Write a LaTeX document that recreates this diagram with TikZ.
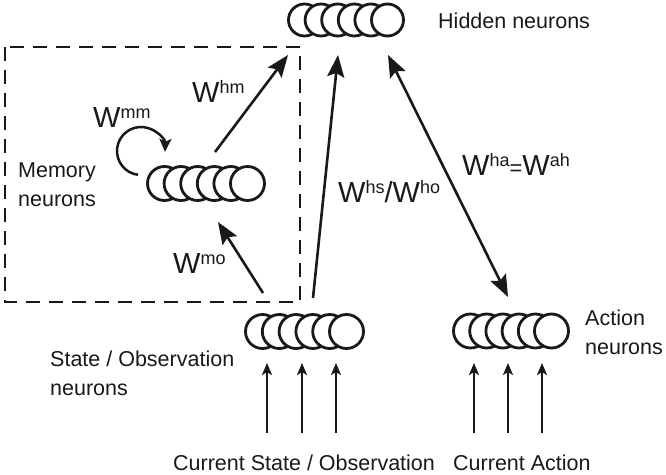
\documentclass[tikz,border=0pt]{standalone}
\usepackage{fontspec}
\setmainfont{Liberation Sans}
\usetikzlibrary{arrows.meta}
\newcommand\Wl[1]{{\fontsize{29}{29}\selectfont W}\raisebox{9pt}{\fontsize{18}{18}\selectfont #1}}
\tikzset{
  neuron/.style={circle, draw=black!90, fill=white, line width=2.8pt, minimum size=34pt, inner sep=0pt},
  conn/.style={line width=2.6pt, draw=black!90, -{Stealth[length=22pt,width=17pt,inset=4pt]}},
  dconn/.style={line width=2.6pt, draw=black!90, {Stealth[length=22pt,width=17pt,inset=4pt]}-{Stealth[length=22pt,width=17pt,inset=4pt]}},
  inarrow/.style={line width=2.5pt, draw=black!90, -{Stealth[length=12pt,width=10pt,inset=3pt]}},
  loop/.style={line width=2.5pt, draw=black!90, -{Stealth[length=13pt,width=12pt,inset=3pt]}},
  lbl/.style={font=\fontsize{21.5}{29}\selectfont, inner sep=0pt, text=black!90, align=left},
  wlbl/.style={inner sep=0pt, text=black!90, anchor=base west},
  membox/.style={line width=2.2pt, draw=black!90, dash pattern=on 14pt off 9pt}
}
\begin{document}
\begin{tikzpicture}[x=1pt,y=-1pt]
\useasboundingbox (0,0) rectangle (666,474);
% memory box
\draw[membox] (5,47) rectangle (300,302);
% neuron rows
\foreach \i in {1,...,6} {
  \node[neuron, minimum size=32pt] (h\i) at ({304.5+(\i-1)*16.6},20) {};
  \node[neuron] (m\i) at ({164.5+(\i-1)*16.6},183.5) {};
  \node[neuron] (s\i) at ({262.5+(\i-1)*16.8},331.5) {};
  \node[neuron] (a\i) at ({470.5+(\i-1)*16.2},331) {};
}
% labels
\node[lbl, anchor=base west] (hidlab) at (438,28) {Hidden neurons};
\node[lbl, anchor=north west] (memlab) at (18,162.6) {Memory\\neurons};
\node[lbl, anchor=north west] (statelab) at (50,350.3) {State / Observation\\neurons};
\node[lbl, anchor=north west] (actlab) at (585,309.6) {Action\\neurons};
\node[lbl, anchor=base west] (curstate) at (173,470) {Current State / Observation};
\node[lbl, anchor=base west] (curact) at (453,470) {Current Action};
% weight labels
\node[wlbl] (wmm) at (93,127) {\Wl{mm}};
\node[wlbl] (whm) at (192,102) {\Wl{hm}};
\node[wlbl] (wmo) at (173,273) {\Wl{mo}};
\node[wlbl] (whs) at (338,202) {\Wl{hs}{\fontsize{29}{29}\selectfont/}\Wl{ho}};
\node[wlbl] (wha) at (462,175) {\Wl{ha}{\fontsize{22}{22}\selectfont=}\Wl{ah}};
% connector end points
\coordinate (hmS) at (215,152);
\coordinate (hmE) at (288,55);
\coordinate (moS) at (263,293);
\coordinate (moE) at (218,222);
\coordinate (hsS) at (313,298);
\coordinate (hsE) at (338,55);
\coordinate (haS) at (388,55);
\coordinate (haE) at (508,297);
\draw[conn] (hmS) -- (hmE);
\draw[conn] (moS) -- (moE);
\draw[conn] (hsS) -- (hsE);
\draw[dconn] (haS) -- (haE);
% recurrent loop
\coordinate (loopc) at (141,151);
\draw[loop] ([shift={(97:24)}]loopc) arc[start angle=97, end angle=362, radius=24];
% input arrows
\foreach \x [count=\k] in {267,302,336} {
  \coordinate (isb\k) at (\x,433);
  \coordinate (ist\k) at (\x,363);
  \draw[inarrow] (isb\k) -- (ist\k);
}
\foreach \x [count=\k] in {474,508,542} {
  \coordinate (iab\k) at (\x,433);
  \coordinate (iat\k) at (\x,363);
  \draw[inarrow] (iab\k) -- (iat\k);
}
\end{tikzpicture}
\end{document}
